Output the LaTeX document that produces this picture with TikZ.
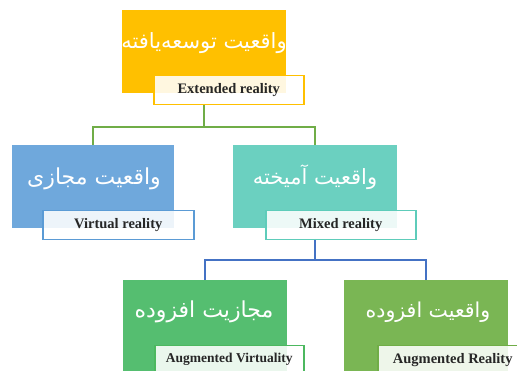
\documentclass[tikz,border=0pt]{standalone}
\usepackage{fontspec}
\setmainfont{Liberation Serif}
\newfontfamily\fa[Script=Arabic]{DejaVu Sans}
\TeXXeTstate=1
\definecolor{cOrange}{HTML}{FFC000}
\definecolor{cBlue}{HTML}{6FA8DC}
\definecolor{cBlueB}{HTML}{5B9BD5}
\definecolor{cTeal}{HTML}{6BD0C0}
\definecolor{cTealB}{HTML}{5ECCBA}
\definecolor{cGreenA}{HTML}{55BE70}
\definecolor{cGreenAB}{HTML}{4CB85F}
\definecolor{cGreenR}{HTML}{7AB654}
\definecolor{cGreenRB}{HTML}{70AD47}
\definecolor{cLineG}{HTML}{70AD47}
\definecolor{cLineB}{HTML}{4472C4}
\definecolor{cText}{HTML}{262626}
\begin{document}
\begin{tikzpicture}[x=1pt,y=-1pt,
  mainbox/.style={rectangle, draw=none, minimum width=164pt, minimum height=83pt, anchor=north west, inner sep=0pt},
  fatext/.style={text=white, font=\fa\fontsize{21}{24}\selectfont, inner sep=0pt},
  labbox/.style={rectangle, draw, line width=1.5pt, fill=white, fill opacity=0.88, text opacity=1, text=cText, minimum width=150pt, minimum height=29pt, anchor=north west, inner sep=0pt, font=\bfseries\fontsize{14.5}{16}\selectfont},
  gline/.style={draw=cLineG, line width=1.6pt},
  bline/.style={draw=cLineB, line width=1.6pt}]
\useasboundingbox (0,0) rectangle (517,371);
\clip (0,0) rectangle (517,371);
% top
\node[mainbox, fill=cOrange] (xr) at (122,10) {};
\node[fatext] (xrt) at (204,43) {\beginR واقعیت توسعه‌یافته\endR};
% middle
\node[mainbox, fill=cBlue, minimum width=162pt] (vr) at (12,145) {};
\node[fatext, font=\fa\fontsize{22}{24}\selectfont] (vrt) at (94,179) {\beginR واقعیت مجازی\endR};
\node[mainbox, fill=cTeal] (mr) at (233,145) {};
\node[fatext] (mrt) at (315,177) {\beginR واقعیت آمیخته\endR};
% bottom
\node[mainbox, fill=cGreenA, minimum height=100pt] (av) at (123,280) {};
\node[fatext, font=\fa\fontsize{22}{24}\selectfont] (avt) at (204,312) {\beginR مجازیت افزوده\endR};
\node[mainbox, fill=cGreenR, minimum height=100pt] (ar) at (344,280) {};
\node[fatext, font=\fa\fontsize{20.5}{24}\selectfont] (art) at (428,312) {\beginR واقعیت افزوده\endR};
% connectors
\draw[gline] (xr.center |- 0,104) -- ++(0,23) -| (vr.north);
\draw[gline] (xr.center |- 0,104) -- ++(0,23) -| (mr.north);
\draw[bline] (mr.center |- 0,239) -- ++(0,21) -| (av.north);
\draw[bline] (mr.center |- 0,239) -- ++(0,21) -| (ar.north);
% labels
\node[labbox, draw=cOrange] (xrl) at (153,75) {Extended reality};
\node[labbox, draw=cBlueB, minimum width=151pt] (vrl) at (42,210) {Virtual reality};
\node[labbox, draw=cTealB] (mrl) at (265,210) {Mixed reality};
\node[labbox, draw=cGreenAB, minimum width=149pt, font=\bfseries\fontsize{13.5}{15}\selectfont] (avl) at (154,345) {\raisebox{4pt}{Augmented Virtuality}};
\node[labbox, draw=cGreenRB, font=\bfseries\fontsize{14.5}{16}\selectfont] (arl) at (377,345) {\raisebox{4pt}{Augmented Reality}};
\end{tikzpicture}
\end{document}
